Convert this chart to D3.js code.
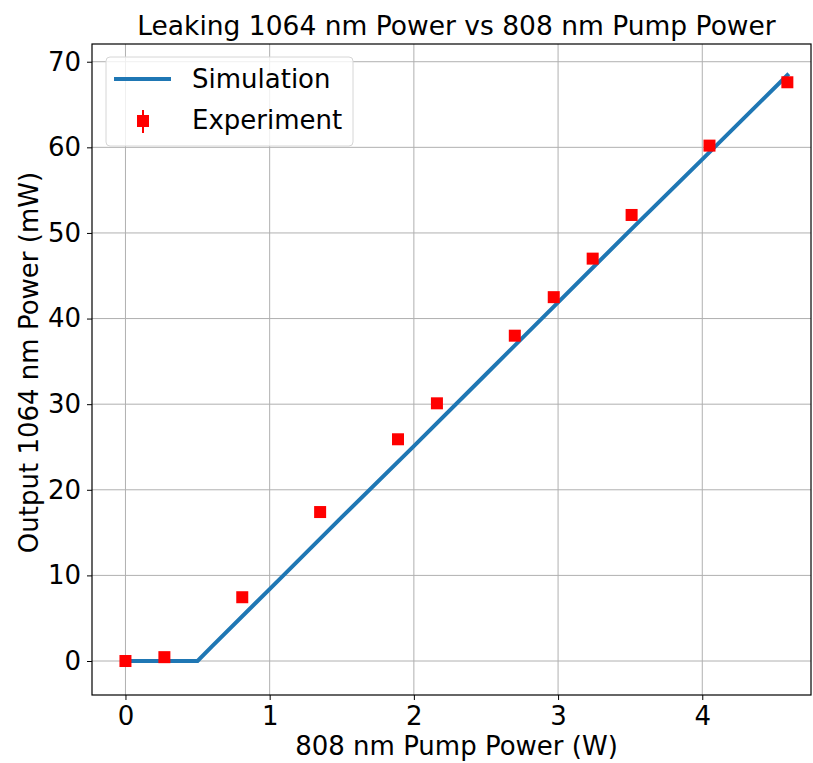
<!DOCTYPE html>
<html>
<head>
<meta charset="utf-8">
<script src="https://cdn.jsdelivr.net/npm/d3@7"></script>
<style>
  body { margin: 0; background: #fff; }
  text { font-family: "DejaVu Sans", sans-serif; fill: #000; }
</style>
</head>
<body>
<div id="chart-area"></div>
<script>

// data
let pumpPower = [0, 0.27, 0.81, 1.35, 1.89, 2.16, 2.70, 2.97, 3.24, 3.51, 4.05, 4.59];
let measured  = [0, 0.45, 7.45, 17.4, 25.9, 30.1, 38.0, 42.5, 47.0, 52.1, 60.2, 67.6];
let measuredErr = [0.3, 0.3, 0.3, 0.3, 0.3, 0.3, 0.3, 0.3, 0.3, 0.3, 0.3, 0.3];

let simPump  = [0, 0.5, 0.6, 1.0, 1.5, 2.0, 2.5, 3.0, 3.5, 4.0, 4.6];
let simPower = [0, 0, 1.7, 8.4, 16.8, 25.1, 33.5, 41.9, 50.3, 58.6, 68.6];

let xTicks = [0, 1, 2, 3, 4];
let yTicks = [0, 10, 20, 30, 40, 50, 60, 70];

// SVG drawing area
let W = 813, H = 763;
let margin = {top: 44, right: 2, bottom: 68, left: 92};
let width = W - margin.left - margin.right,
    height = H - margin.top - margin.bottom;

let svg = d3.select("#chart-area").append("svg")
    .attr("width", W)
    .attr("height", H);

let g = svg.append("g")
    .attr("transform", "translate(" + margin.left + "," + margin.top + ")");

let x = d3.scaleLinear().domain([-0.232, 4.754]).range([0, width]);
let y = d3.scaleLinear().domain([-3.97, 72.07]).range([height, 0]);

// grid
g.append("g").selectAll("line").data(xTicks).enter().append("line")
    .attr("x1", d => x(d)).attr("x2", d => x(d))
    .attr("y1", 0).attr("y2", height)
    .attr("stroke", "#b0b0b0").attr("stroke-width", 1);
g.append("g").selectAll("line").data(yTicks).enter().append("line")
    .attr("x1", 0).attr("x2", width)
    .attr("y1", d => y(d)).attr("y2", d => y(d))
    .attr("stroke", "#b0b0b0").attr("stroke-width", 1);

// axes
let xAxis = g.append("g")
    .attr("transform", "translate(0," + height + ")")
    .call(d3.axisBottom(x).tickValues(xTicks).tickFormat(d3.format("d")).tickSize(5).tickPadding(7));
let yAxis = g.append("g")
    .call(d3.axisLeft(y).tickValues(yTicks).tickFormat(d3.format("d")).tickSize(5).tickPadding(6));

[xAxis, yAxis].forEach(function(a) {
  a.select(".domain").remove();
  a.selectAll("line").attr("stroke", "#000");
  a.selectAll("text").style("font-size", "26px").style("font-family", "DejaVu Sans");
});

// simulation line
g.append("path")
    .datum(simPump.map((d, i) => [d, simPower[i]]))
    .attr("fill", "none")
    .attr("stroke", "#1f77b4")
    .attr("stroke-width", 4)
    .attr("d", d3.line().x(d => x(d[0])).y(d => y(d[1])));

// experiment markers with error bars
let pts = pumpPower.map((d, i) => ({x: d, y: measured[i], e: measuredErr[i]}));
g.append("g").selectAll("line").data(pts).enter().append("line")
    .attr("x1", d => x(d.x)).attr("x2", d => x(d.x))
    .attr("y1", d => y(d.y - d.e)).attr("y2", d => y(d.y + d.e))
    .attr("stroke", "red").attr("stroke-width", 2);
g.append("g").selectAll("rect").data(pts).enter().append("rect")
    .attr("x", d => x(d.x) - 6).attr("y", d => y(d.y) - 6)
    .attr("width", 12).attr("height", 12)
    .attr("fill", "red");

// frame
g.append("rect")
    .attr("width", width).attr("height", height)
    .attr("fill", "none").attr("stroke", "#000").attr("stroke-width", 1.2);

// legend
let leg = g.append("g").attr("transform", "translate(14,13)");
leg.append("rect")
    .attr("width", 247).attr("height", 89).attr("rx", 4)
    .attr("fill", "#fff").attr("fill-opacity", 0.8)
    .attr("stroke", "#d6d6d6").attr("stroke-width", 1);
leg.append("line")
    .attr("x1", 8).attr("x2", 65).attr("y1", 22).attr("y2", 22)
    .attr("stroke", "#1f77b4").attr("stroke-width", 4);
leg.append("line")
    .attr("x1", 37).attr("x2", 37).attr("y1", 53).attr("y2", 76)
    .attr("stroke", "red").attr("stroke-width", 2);
leg.append("rect")
    .attr("x", 31).attr("y", 58).attr("width", 12).attr("height", 12)
    .attr("fill", "red");
leg.append("text").attr("x", 86).attr("y", 31).style("font-size", "26px").text("Simulation");
leg.append("text").attr("x", 86).attr("y", 72).style("font-size", "26px").text("Experiment");

// titles
svg.append("text")
    .attr("x", margin.left + width / 2 + 5).attr("y", 35)
    .attr("text-anchor", "middle")
    .style("font-size", "26.5px")
    .text("Leaking 1064 nm Power vs 808 nm Pump Power");

svg.append("text")
    .attr("x", margin.left + width / 2 + 5).attr("y", 755)
    .attr("text-anchor", "middle")
    .style("font-size", "26px")
    .text("808 nm Pump Power (W)");

svg.append("text")
    .attr("transform", "translate(38," + (margin.top + height / 2 - 7) + ") rotate(-90)")
    .attr("text-anchor", "middle")
    .style("font-size", "26px")
    .text("Output 1064 nm Power (mW)");

</script>
</body>
</html>
